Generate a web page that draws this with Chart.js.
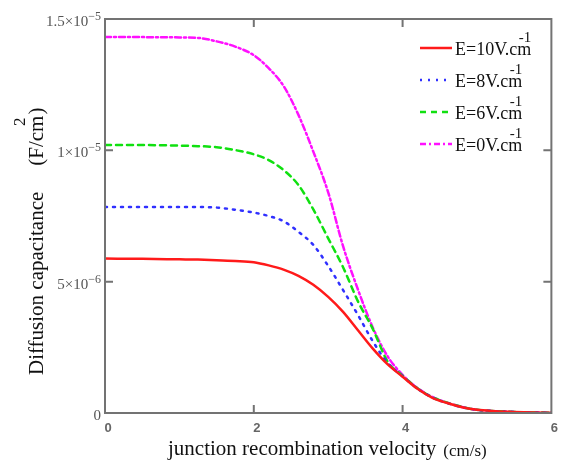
<!DOCTYPE html>
<html>
<head>
<meta charset="utf-8">
<script src="https://cdn.jsdelivr.net/npm/chart.js@4.4.1/dist/chart.umd.min.js"></script>
<style>
  html, body { margin: 0; padding: 0; background: #fff; }
  #wrap { width: 563px; height: 464px; position: relative; }
</style>
</head>
<body>
<div id="wrap"><canvas id="chart"></canvas></div>
<script>
// ===============================
// Data
// ===============================
const velocity = [0, 0.5, 1, 1.25, 1.5, 1.75, 2, 2.2, 2.4, 2.6, 2.8, 3, 3.2, 3.4, 3.6, 3.8, 4, 4.2, 4.4, 4.6, 4.8, 5, 5.25, 5.5, 5.75, 6];

// capacitance in units of 1e-6 F/cm^2
const capE10 = [5.88, 5.87, 5.85, 5.84, 5.82, 5.79, 5.74, 5.62, 5.46, 5.22, 4.88, 4.42, 3.85, 3.15, 2.45, 1.85, 1.38, 0.92, 0.58, 0.38, 0.22, 0.12, 0.07, 0.04, 0.02, 0.01];
const capE8  = [7.84, 7.84, 7.84, 7.84, 7.82, 7.74, 7.63, 7.50, 7.30, 6.90, 6.40, 5.60, 4.68, 3.73, 2.73, 1.90, 1.40, 0.93, 0.59, 0.38, 0.22, 0.12, 0.07, 0.04, 0.02, 0.01];
const capE6  = [10.2, 10.2, 10.18, 10.16, 10.12, 10.01, 9.85, 9.63, 9.25, 8.68, 7.75, 6.65, 5.55, 4.25, 3.20, 1.95, 1.42, 0.94, 0.60, 0.39, 0.23, 0.12, 0.07, 0.04, 0.02, 0.01];
const capE0  = [14.31, 14.31, 14.30, 14.28, 14.15, 13.95, 13.62, 13.13, 12.45, 11.35, 9.95, 8.40, 6.35, 4.70, 3.25, 2.15, 1.45, 0.95, 0.61, 0.39, 0.23, 0.12, 0.07, 0.04, 0.02, 0.01];

const seriesNames = ["E=10V.cm", "E=8V.cm", "E=6V.cm", "E=0V.cm"];
const seriesSup = ["-1", "-1", "-1", "-1"];

const xTickLabels = ["0", "2", "4", "6"];
// y tick labels: mantissa part and raised exponent
const yTickMant = ["0", "5×10", "1×10", "1.5×10"];
const yTickExp = ["", "−6", "−5", "−5"];

const yTitle = "Diffusion capacitance";
const yUnit = "(F/cm";
const yUnitSup = "2";
const xTitle = "junction recombination velocity";
const xUnit = "(cm/s)";

function toPoints(vals) {
  return velocity.map((v, i) => ({ x: v, y: vals[i] * 1e-6 }));
}

// ===============================
// Styles
// ===============================
const colors = ["#ff1a1a", "#3030ff", "#10e010", "#ff10ff"];
const dashes = [[], [2, 6], [6, 5], [6, 3, 2, 3]];
const widths = [2.5, 2.5, 2.5, 2.5];
const serif = "'Liberation Serif', serif";

// ===============================
// Frame, inner ticks, titles, legend
// ===============================
const decorPlugin = {
  id: "decor",
  afterDraw(chart) {
    const ctx = chart.ctx;
    const a = chart.chartArea;
    const xs = chart.scales.x;
    const ys = chart.scales.y;

    ctx.save();
    ctx.strokeStyle = "#737373";
    ctx.lineWidth = 2;
    ctx.setLineDash([]);
    ctx.strokeRect(a.left, a.top, a.right - a.left, a.bottom - a.top);

    // inward tick marks
    const tl = 8;
    ctx.beginPath();
    [2, 4].forEach(v => {
      const px = xs.getPixelForValue(v);
      ctx.moveTo(px, a.bottom); ctx.lineTo(px, a.bottom - tl);
      ctx.moveTo(px, a.top); ctx.lineTo(px, a.top + tl);
    });
    [5e-6, 1e-5].forEach(v => {
      const py = ys.getPixelForValue(v);
      ctx.moveTo(a.left, py); ctx.lineTo(a.left + tl, py);
      ctx.moveTo(a.right, py); ctx.lineTo(a.right - tl, py);
    });
    ctx.stroke();

    // y tick labels with superscript exponent
    ctx.fillStyle = "#555";
    ctx.textBaseline = "alphabetic";
    ys.ticks.forEach((t, i) => {
      const py = ys.getPixelForValue(t.value);
      ctx.font = "12px " + serif;
      const ew = ctx.measureText(yTickExp[i]).width;
      ctx.textAlign = "right";
      ctx.fillText(yTickExp[i], 101, py + 1);
      ctx.font = "15px " + serif;
      ctx.fillText(yTickMant[i], 101 - ew, py + 7);
    });

    // x axis title
    ctx.fillStyle = "#111";
    ctx.textAlign = "left";
    ctx.font = "21px " + serif;
    ctx.fillText(xTitle, 168, 455);
    const xw = ctx.measureText(xTitle).width;
    ctx.font = "17px " + serif;
    ctx.fillText(xUnit, 168 + xw + 7, 456);

    // y axis title (rotated)
    ctx.save();
    ctx.translate(43, 375);
    ctx.rotate(-Math.PI / 2);
    ctx.font = "21px " + serif;
    ctx.fillText(yTitle, 0, 0);
    let u = ctx.measureText(yTitle).width + 26;
    ctx.fillText(yUnit, u, 0);
    u += ctx.measureText(yUnit).width;
    ctx.fillText(")", u + 1, 0);
    ctx.font = "17px " + serif;
    ctx.textAlign = "right";
    ctx.fillText(yUnitSup, u - 2, -18);
    ctx.restore();

    // legend
    const legendY = [48, 80, 112, 144];
    chart.data.datasets.forEach((ds, i) => {
      const y = legendY[i];
      ctx.strokeStyle = ds.borderColor;
      ctx.lineWidth = ds.borderWidth;
      ctx.setLineDash(ds.borderDash || []);
      ctx.beginPath();
      ctx.moveTo(420, y);
      ctx.lineTo(452, y);
      ctx.stroke();
      ctx.setLineDash([]);

      ctx.fillStyle = "#111";
      ctx.textAlign = "left";
      ctx.font = "18px " + serif;
      ctx.fillText(seriesNames[i], 455, y + 7);
      const w = ctx.measureText(seriesNames[i]).width;
      ctx.textAlign = "right";
      ctx.font = "15px " + serif;
      ctx.fillText(seriesSup[i], 455 + w, y - 6);
    });
    ctx.restore();
  }
};

// ===============================
// Chart
// ===============================
const ctxChart = document.getElementById("chart");

new Chart(ctxChart, {
  type: "line",
  data: {
    datasets: [capE10, capE8, capE6, capE0].map((vals, i) => ({
      label: seriesNames[i],
      data: toPoints(vals),
      borderColor: colors[i],
      borderWidth: widths[i],
      borderDash: dashes[i],
      borderCapStyle: "round",
      pointRadius: 0,
      fill: false,
      cubicInterpolationMode: "monotone"
    }))
  },
  options: {
    responsive: true,
    maintainAspectRatio: false,
    animation: false,
    layout: {
      autoPadding: false,
      padding: { left: 0, right: 7, top: 19, bottom: 0 }
    },
    plugins: {
      legend: { display: false },
      tooltip: { enabled: false }
    },
    scales: {
      x: {
        type: "linear",
        min: 0,
        max: 6,
        afterFit: s => { s.height = 51; },
        grid: { display: false, drawTicks: false },
        border: { display: false },
        ticks: {
          stepSize: 2,
          autoSkip: false,
          maxRotation: 0,
          padding: 8,
          labelOffset: 3,
          color: "#666",
          font: { family: "'Liberation Sans', sans-serif", size: 13, weight: "bold" },
          callback: (v, i) => xTickLabels[i]
        }
      },
      y: {
        min: 0,
        max: 1.5e-5,
        afterFit: s => { s.width = 105; },
        grid: { display: false, drawTicks: false },
        border: { display: false },
        ticks: {
          stepSize: 5e-6,
          autoSkip: false,
          display: false
        }
      }
    }
  },
  plugins: [decorPlugin]
});
</script>
</body>
</html>
